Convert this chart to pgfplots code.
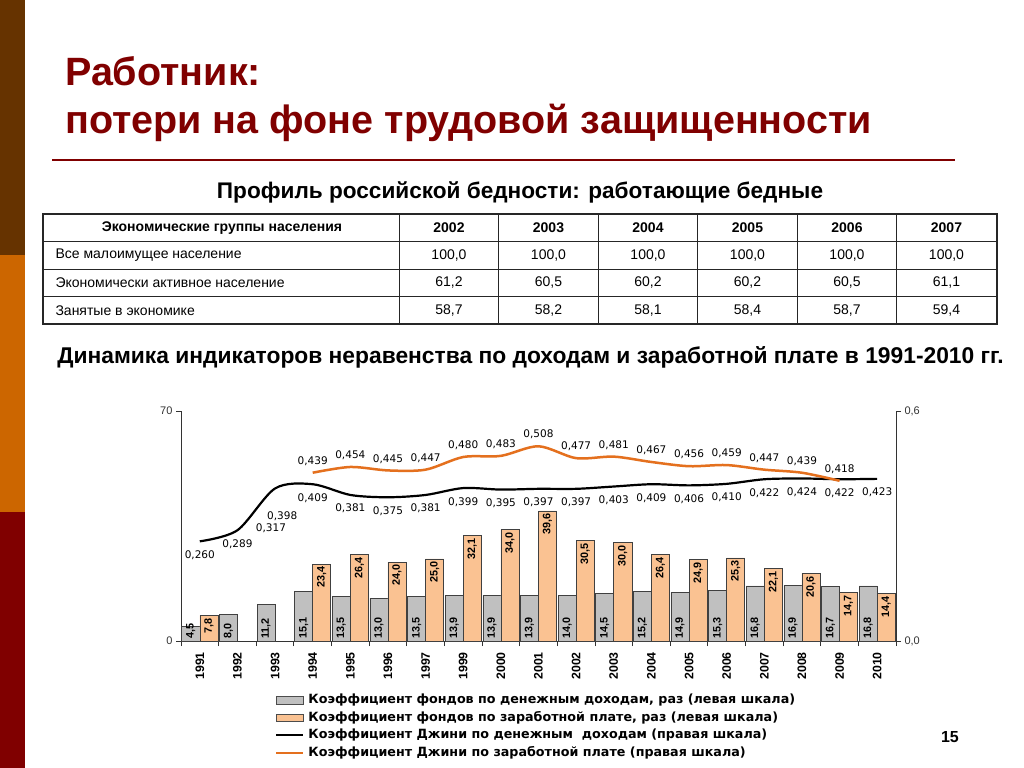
\documentclass[border=0pt]{standalone}
\usepackage{fontspec}
\setmainfont{Liberation Sans}
\newfontfamily\dejavu{DejaVu Sans}
\usepackage{pgfplots}
\usepackage{pgfplotstable}
\pgfplotsset{compat=1.18}
\pgfplotsset{/pgf/number format/assume math mode=true}

\definecolor{titlered}{RGB}{128,0,0}
\definecolor{stripbrown}{RGB}{102,51,0}
\definecolor{striporange}{RGB}{204,102,0}
\definecolor{stripred}{RGB}{128,0,0}
\definecolor{bargray}{RGB}{192,192,192}
\definecolor{barorange}{RGB}{250,194,146}
\definecolor{lineorange}{RGB}{228,112,30}

\newcommand{\fs}[1]{\fontsize{#1bp}{#1bp}\selectfont}

% i = category index; g/o = funds coefficients (left scale), gd/gw = Gini (right scale)
\pgfplotstableread{
i  year g    o    gd    gw
0  1991 4.5  7.8  0.260 nan
1  1992 8.0  nan  0.289 nan
2  1993 11.2 nan  0.398 nan
3  1994 15.1 23.4 0.409 0.439
4  1995 13.5 26.4 0.381 0.454
5  1996 13.0 24.0 0.375 0.445
6  1997 13.5 25.0 0.381 0.447
7  1999 13.9 32.1 0.399 0.480
8  2000 13.9 34.0 0.395 0.483
9  2001 13.9 39.6 0.397 0.508
10 2002 14.0 30.5 0.397 0.477
11 2003 14.5 30.0 0.403 0.481
12 2004 15.2 26.4 0.409 0.467
13 2005 14.9 24.9 0.406 0.456
14 2006 15.3 25.3 0.410 0.459
15 2007 16.8 22.1 0.422 0.447
16 2008 16.9 20.6 0.424 0.439
17 2009 16.7 14.7 0.422 0.418
18 2010 16.8 14.4 0.423 nan
}\data

\begin{document}
\begin{tikzpicture}
\begin{scope}[x=1bp,y=-1bp]
  \fill[white] (0,0) rectangle (1024,768);
  \fill[stripbrown] (0,0) rectangle (25,255);
  \fill[striporange] (0,255) rectangle (25,512);
  \fill[stripred] (0,512) rectangle (25,768);

  \node[anchor=base west, inner sep=0, text=titlered, font=\bfseries\fs{39.5}] at (65,85) {Работник:};
  \node[anchor=base west, inner sep=0, text=titlered, font=\bfseries\fs{39.5}] at (65,133) {потери на фоне трудовой защищенности};
  \draw[titlered, line width=2bp] (52,160) -- (955,160);

  \node[anchor=base, inner sep=0, font=\bfseries\fs{22.6}] at (520,198) {Профиль российской бедности: работающие бедные};

  % table
  \draw[line width=1.2bp, black!85] (43,214) rectangle (997,324);
  \foreach \y in {241.5,269,296.5} \draw[line width=1bp, black!85] (43,\y) -- (997,\y);
  \foreach \x in {399,498.5,598,697.5,797,896.5} \draw[line width=1bp, black!85] (\x,214) -- (\x,324);
  \node[font=\bfseries\fs{14}] at (222,228) {Экономические группы населения};
  \foreach \yr [count=\k from 0] in {2002,2003,2004,2005,2006,2007}
    \node[font=\bfseries\fs{14}] at (449+99.5*\k,228) {\yr};
  \node[anchor=west, font=\fs{14}] at (52,255.5) {Все малоимущее население};
  \node[anchor=west, font=\fs{14}] at (52,283) {Экономически активное население};
  \node[anchor=west, font=\fs{14}] at (52,310.5) {Занятые в экономике};
  \foreach \v [count=\k from 0] in {{100,0},{100,0},{100,0},{100,0},{100,0},{100,0}}
    \node[font=\fs{14}] at (449+99.5*\k,255.5) {\v};
  \foreach \v [count=\k from 0] in {{61,2},{60,5},{60,2},{60,2},{60,5},{61,1}}
    \node[font=\fs{14}] at (449+99.5*\k,283) {\v};
  \foreach \v [count=\k from 0] in {{58,7},{58,2},{58,1},{58,4},{58,7},{59,4}}
    \node[font=\fs{14}] at (449+99.5*\k,310.5) {\v};

  \node[anchor=base, inner sep=0, font=\bfseries\fs{22.8}] at (530.5,363) {Динамика индикаторов неравенства по доходам и заработной плате в 1991-2010 гг.};

  \node[anchor=base, inner sep=0, font=\bfseries\fs{16}] at (950,742) {15};
\end{scope}

% left scale: funds coefficients (bars)
\begin{axis}[
  at={(181bp,-641bp)}, anchor=south west,
  scale only axis, width=715bp, height=230bp,
  xmin=-0.5, xmax=18.5, ymin=0, ymax=70,
  axis x line*=bottom, axis y line*=left,
  axis line style={-, black!80, line width=0.8bp},
  xtick={-0.5,0.5,...,18.5},
  x tick label as interval,
  xticklabels={1991,1992,1993,1994,1995,1996,1997,1999,2000,2001,2002,2003,2004,2005,2006,2007,2008,2009,2010},
  xticklabel style={rotate=90, anchor=east, font=\bfseries\fs{12.3}, inner sep=0pt, xshift=-6bp},
  ytick={0,70},
  yticklabel style={font=\fs{11}, text=black!80},
  tick align=outside, major tick length=5bp,
  tick style={black!80, line width=0.8bp},
  clip=false,
]
\addplot[ybar, bar width=0.48, bar shift=0pt, fill=bargray, draw=black!75, line width=0.6bp]
  table[x expr=\thisrow{i}-0.24, y=g]{\data};
\addplot[ybar, bar width=0.48, bar shift=0pt, fill=barorange, draw=black!75, line width=0.6bp,
  point meta=y,
  nodes near coords={\pgfmathprintnumber[fixed,fixed zerofill,precision=1,use comma]{\pgfplotspointmeta}},
  nodes near coords style={rotate=90, anchor=east, inner sep=2.5bp, font=\bfseries\fs{10.8}}]
  table[x expr=\thisrow{i}+0.24, y=o]{\data};
% labels at the base of the grey bars
\addplot[draw=none, mark=none, forget plot,
  point meta=\thisrow{g},
  nodes near coords={\pgfmathprintnumber[fixed,fixed zerofill,precision=1,use comma]{\pgfplotspointmeta}},
  nodes near coords style={rotate=90, anchor=west, inner sep=2bp, font=\bfseries\fs{10.8}}]
  table[x expr=\thisrow{i}-0.24, y expr=0]{\data};
\end{axis}

% right scale: Gini coefficients (lines)
\begin{axis}[
  at={(181bp,-641bp)}, anchor=south west,
  scale only axis, width=715bp, height=230bp,
  xmin=-0.5, xmax=18.5, ymin=0, ymax=0.6,
  axis x line=none, axis y line*=right,
  axis line style={-, black!80, line width=0.8bp},
  ytick={0,0.6},
  yticklabel style={/pgf/number format/.cd, fixed, fixed zerofill, precision=1, use comma, /tikz/.cd, font=\fs{11}, text=black!80},
  tick align=outside, major tick length=5bp,
  tick style={black!80, line width=0.8bp},
  clip=false,
  legend style={at={(0.1315,-0.223)}, anchor=north west, draw=none, fill=none,
    font=\dejavu\bfseries\fs{12.7}, row sep=2bp, inner sep=0pt,
    nodes={inner sep=1.5bp, text height=9.5bp, text depth=3bp},
    /tikz/every odd column/.append style={column sep=2.5bp}},
  legend cell align=left,
]
\addlegendimage{legend image code/.code={\draw[fill=bargray, draw=black!70, line width=0.6bp] (0bp,-3.7bp) rectangle (27bp,3.7bp);}}
\addlegendimage{legend image code/.code={\draw[fill=barorange, draw=black!70, line width=0.6bp] (0bp,-3.7bp) rectangle (27bp,3.7bp);}}
\addplot[black, line width=2.2bp, smooth,
  legend image code/.code={\draw[black, line width=1.8bp] (0bp,0bp) -- (27bp,0bp);}]
  table[x=i, y=gd]{\data};
\addplot[lineorange, line width=2.5bp, smooth,
  legend image code/.code={\draw[lineorange, line width=2.2bp] (0bp,0bp) -- (27bp,0bp);}]
  table[x=i, y=gw]{\data};
% value labels
\addplot[draw=none, mark=none, forget plot, point meta=y,
  skip coords between index={2}{3},
  nodes near coords={\pgfmathprintnumber[fixed,fixed zerofill,precision=3,use comma]{\pgfplotspointmeta}},
  nodes near coords style={anchor=north, inner sep=0pt, yshift=-9bp, font=\dejavu\fs{10.5}}]
  table[x=i, y=gd]{\data};
\addplot[draw=none, mark=none, forget plot, point meta=y,
  nodes near coords={\pgfmathprintnumber[fixed,fixed zerofill,precision=3,use comma]{\pgfplotspointmeta}},
  nodes near coords style={anchor=south, inner sep=0pt, yshift=7bp, font=\dejavu\fs{10.5}}]
  table[x=i, y=gw]{\data};
\node[font=\dejavu\fs{10.5}] at (axis cs:2.19,0.326) {0,398};
\node[font=\dejavu\fs{10.5}] at (axis cs:1.89,0.295) {0,317};
\legend{Коэффициент фондов по денежным доходам{,} раз (левая шкала),
        Коэффициент фондов по заработной плате{,} раз (левая шкала),
        Коэффициент Джини по денежным\ \ доходам (правая шкала),
        Коэффициент Джини по заработной плате (правая шкала)}
\end{axis}

\pgfresetboundingbox
\path[use as bounding box] (0,0) rectangle (1024bp,-768bp);
\end{tikzpicture}
\end{document}
